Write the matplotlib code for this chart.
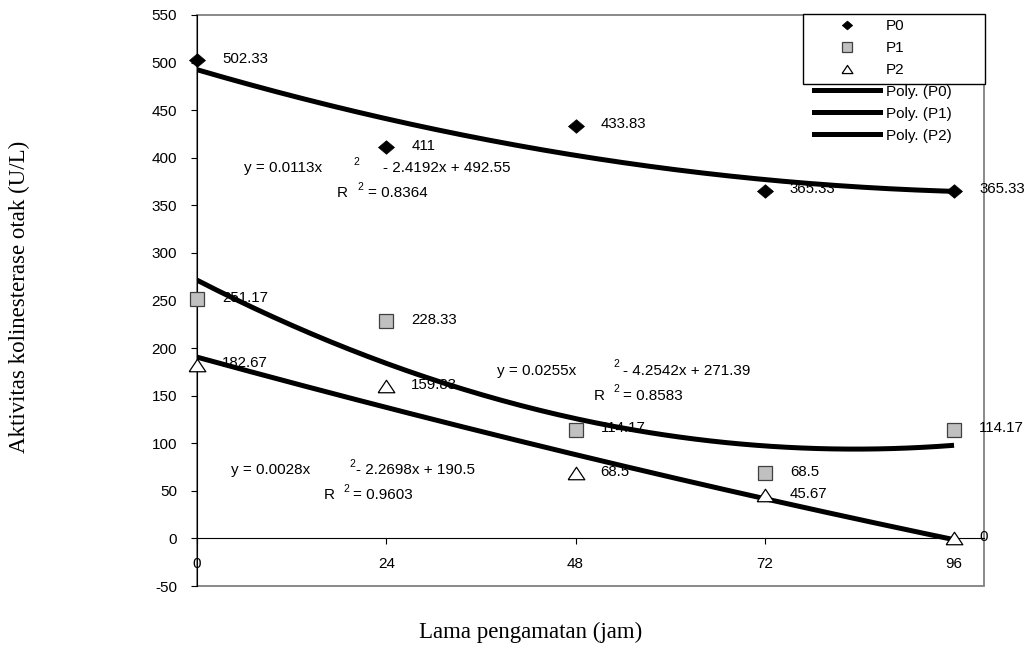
import numpy as np
import matplotlib.pyplot as plt
from matplotlib.patches import Rectangle
from matplotlib.lines import Line2D

# data
hours = [0, 24, 48, 72, 96]
p0 = [502.33, 411, 433.83, 365.33, 365.33]
p1 = [251.17, 228.33, 114.17, 68.5, 114.17]
p2 = [182.67, 159.83, 68.5, 45.67, 0]
names = ['P0', 'P1', 'P2']
eq_left = ['y = 0.0113x', 'y = 0.0255x', 'y = 0.0028x']
eq_right = ['- 2.4192x + 492.55', '- 4.2542x + 271.39', '- 2.2698x + 190.5']
r2_text = ['= 0.8364', '= 0.8583', '= 0.9603']
x_ticks = [0, 24, 48, 72, 96]
y_ticks = list(range(-50, 551, 50))

W, H = 1026, 645
plt.rcParams['font.family'] = 'Liberation Sans'
plt.rcParams['axes.unicode_minus'] = False

fig = plt.figure(figsize=(W / 100, H / 100), dpi=100)
ax = fig.add_axes([197 / W, 1 - 586 / H, (984 - 197) / W, (586 - 15) / H])
ax.set_xlim(0, 99.8)
ax.set_ylim(-50, 550)


def fpos(x, y):
    return x / W, 1 - y / H


# marker styles (squashed diamond / triangle like Excel)
diamond = [(-1, 0), (0, 0.85), (1, 0), (0, -0.85), (-1, 0)]
triangle = [(-1, -0.75), (0, 0.75), (1, -0.75), (-1, -0.75)]
styles = [
    dict(marker=diamond, ms=11.5, mfc='black', mec='black', mew=0.5),
    dict(marker='s', ms=10, mfc='#c0c0c0', mec='#404040', mew=0.9),
    dict(marker=triangle, ms=12, mfc='white', mec='black', mew=0.9),
]

xs = np.linspace(0, 96, 200)
for vals, st in zip([p0, p1, p2], styles):
    ax.plot(hours, vals, ls='none', zorder=4, clip_on=False, **st)
    coef = np.polyfit(hours, vals, 2)
    ax.plot(xs, np.polyval(coef, xs), color='black', lw=3.6, zorder=3,
            solid_capstyle='butt')
    for h, v in zip(hours, vals):
        ax.annotate(f'{v:g}', (h, v), xytext=(18, 1), textcoords='offset points',
                    ha='left', va='center', fontsize=10.8, zorder=2,
                    annotation_clip=False)

# trendline equations
eq_pos = [
    ((244, 168), (353, 162), (383, 168), (337, 193), (357, 187), (368, 193)),
    ((497, 371), (613, 364), (623, 371), (594, 396), (613, 389), (623, 396)),
    ((231, 470), (349, 464), (356, 470), (324, 495), (343, 489), (353, 495)),
]
for i, pos in enumerate(eq_pos):
    fig.text(*fpos(*pos[0]), eq_left[i], fontsize=11, va='center')
    fig.text(*fpos(*pos[1]), '2', fontsize=7.5, va='center')
    fig.text(*fpos(*pos[2]), eq_right[i], fontsize=11, va='center')
    fig.text(*fpos(*pos[3]), 'R', fontsize=11, va='center')
    fig.text(*fpos(*pos[4]), '2', fontsize=7.5, va='center')
    fig.text(*fpos(*pos[5]), r2_text[i], fontsize=11, va='center')

# axes frame
for s in ['top', 'right']:
    ax.spines[s].set_visible(False)
ax.spines['left'].set_color('black')
ax.spines['bottom'].set_position(('data', 0))
ax.spines['bottom'].set_color('black')
ax.add_patch(Rectangle((0, 0), 1, 1, transform=ax.transAxes, fill=False,
                       ec='#808080', lw=1.3, clip_on=False, zorder=0))

ax.set_xticks(x_ticks)
ax.set_xticklabels([str(t) for t in x_ticks])
ax.set_yticks(y_ticks)
ax.tick_params(axis='x', direction='out', length=4, width=0.8, pad=9.5, labelsize=11)
ax.tick_params(axis='y', direction='out', length=4.3, width=0.8, pad=10, labelsize=11)

fig.text(*fpos(531, 632), 'Lama pengamatan (jam)', family='Liberation Serif',
         fontsize=16.5, ha='center', va='center')
fig.text(*fpos(19, 297), 'Aktivitas kolinesterase otak (U/L)', family='Liberation Serif',
         fontsize=16.5, ha='center', va='center', rotation=90)

# legend: box only around the marker entries
ax.add_patch(Rectangle(fpos(803, 84), (985 - 803) / W, (84 - 14) / H,
                       transform=fig.transFigure, fc='white', ec='black', lw=1,
                       clip_on=False, zorder=4.5))
handles = [Line2D([], [], ls='none', **st) for st in styles]
handles += [Line2D([], [], color='black', lw=3.6) for _ in names]
labels = names + [f'Poly. ({n})' for n in names]
leg = ax.legend(handles, labels, loc='upper left', bbox_to_anchor=fpos(814, 19),
                bbox_transform=fig.transFigure, frameon=False, fontsize=11,
                borderpad=0, borderaxespad=0, handlelength=4.3, handletextpad=0.4,
                labelspacing=0.52, numpoints=1, markerscale=0.65)
leg.set_zorder(5)

fig.savefig('out.png', dpi=100)
